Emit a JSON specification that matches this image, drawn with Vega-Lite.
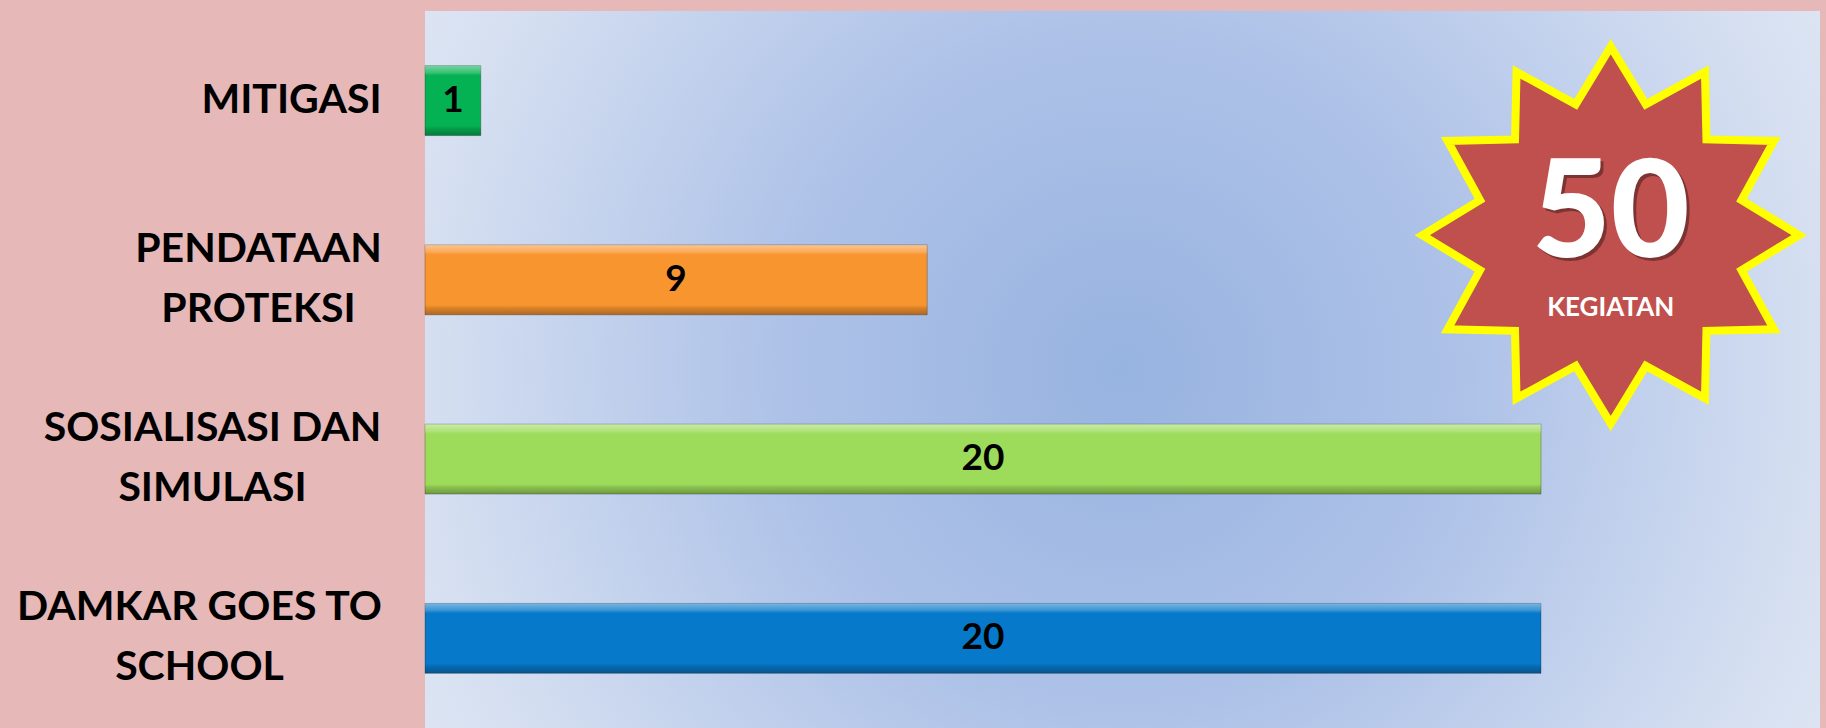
{
  "$schema": "https://vega.github.io/schema/vega-lite/v6.json",
  "width": 1395,
  "height": 717,
  "autosize": {"type": "none"},
  "padding": {"left": 425, "top": 11, "right": 6, "bottom": 0},
  "background": "#E6B8B7",
  "config": {"view": {"stroke": null}, "font": "Lato"},
  "datasets": {
    "kegiatan": [
      {"kategori": "MITIGASI", "jumlah": 1},
      {"kategori": "PENDATAAN PROTEKSI", "jumlah": 9},
      {"kategori": "SOSIALISASI DAN SIMULASI", "jumlah": 20},
      {"kategori": "DAMKAR GOES TO SCHOOL", "jumlah": 20}
    ]
  },
  "data": {"name": "kegiatan"},
  "resolve": {"scale": {"x": "independent"}},
  "layer": [
    {
      "data": {"values": [{"bg": 1}]},
      "mark": {
        "type": "rect",
        "color": {
          "gradient": "radial",
          "x1": 0.5, "y1": 0.5, "r1": 0,
          "x2": 0.5, "y2": 0.5, "r2": 0.62,
          "stops": [
            {"offset": 0, "color": "#97B3E0"},
            {"offset": 0.4, "color": "#AEC2E8"},
            {"offset": 0.82, "color": "#D6E0F1"},
            {"offset": 1, "color": "#E3E9F5"}
          ]
        }
      },
      "encoding": {}
    },
    {
      "mark": {"type": "bar", "stroke": "#00000040", "strokeWidth": 1},
      "encoding": {
        "y": {
          "field": "kategori",
          "type": "nominal",
          "sort": null,
          "scale": {"paddingInner": 0.61, "paddingOuter": 0.305},
          "axis": {
            "title": null,
            "domain": false,
            "ticks": false,
            "labelFont": "Lato",
            "labelFontWeight": "bold",
            "labelFontSize": 41,
            "labelColor": "#000000",
            "labelLineHeight": 60,
            "labelAlign": "center",
            "labelBaseline": "middle",
            "labelLimit": 500,
            "labelPadding": {"condition": [
              {"test": "datum.value == 'MITIGASI'", "value": 134},
              {"test": "datum.value == 'PENDATAAN PROTEKSI'", "value": 167},
              {"test": "datum.value == 'SOSIALISASI DAN SIMULASI'", "value": 213}
            ], "value": 226},
            "labelOffset": {"condition": {"test": "datum.value != 'MITIGASI'", "value": -30}, "value": 0},
            "labelExpr": "datum.value == 'PENDATAAN PROTEKSI' ? ['PENDATAAN', 'PROTEKSI'] : datum.value == 'SOSIALISASI DAN SIMULASI' ? ['SOSIALISASI DAN', 'SIMULASI'] : datum.value == 'DAMKAR GOES TO SCHOOL' ? ['DAMKAR GOES TO', 'SCHOOL'] : datum.value"
          }
        },
        "x": {
          "field": "jumlah",
          "type": "quantitative",
          "scale": {"domain": [0, 25], "nice": false},
          "axis": null
        },
        "color": {
          "field": "kategori",
          "type": "nominal",
          "sort": null,
          "scale": {
            "domain": ["MITIGASI", "PENDATAAN PROTEKSI", "SOSIALISASI DAN SIMULASI", "DAMKAR GOES TO SCHOOL"],
            "range": ["#05B253", "#F9952F", "#9DDB5A", "#0779CA"]
          },
          "legend": null
        }
      }
    },
    {
      "mark": {
        "type": "bar",
        "color": {
          "gradient": "linear",
          "x1": 0, "y1": 0, "x2": 0, "y2": 1,
          "stops": [
            {"offset": 0, "color": "rgba(255,255,255,0.45)"},
            {"offset": 0.1, "color": "rgba(255,255,255,0.2)"},
            {"offset": 0.14, "color": "rgba(255,255,255,0)"},
            {"offset": 0.86, "color": "rgba(0,0,0,0)"},
            {"offset": 0.9, "color": "rgba(0,0,0,0.12)"},
            {"offset": 1, "color": "rgba(0,0,0,0.3)"}
          ]
        }
      },
      "encoding": {
        "y": {"field": "kategori", "type": "nominal", "sort": null},
        "x": {"field": "jumlah", "type": "quantitative", "scale": {"domain": [0, 25], "nice": false}, "axis": null}
      }
    },
    {
      "mark": {
        "type": "text",
        "font": "Lato",
        "fontWeight": "bold",
        "fontSize": 37,
        "color": "#000000",
        "align": "center",
        "baseline": "middle"
      },
      "encoding": {
        "y": {"field": "kategori", "type": "nominal", "sort": null},
        "x": {"field": "jumlah", "type": "quantitative", "scale": {"domain": [0, 50], "nice": false}, "axis": null},
        "text": {"field": "jumlah", "type": "quantitative"}
      }
    },
    {
      "data": {"values": [{"badge": "total"}]},
      "mark": {
        "type": "point",
        "filled": true,
        "fill": "#C0504D",
        "stroke": "#FFFF00",
        "strokeWidth": 8,
        "opacity": 1,
        "fillOpacity": 1,
        "size": 142000,
        "shape": "M0,-1L0.186,-0.694L0.5,-0.866L0.508,-0.508L0.866,-0.5L0.694,-0.186L1,0L0.694,0.186L0.866,0.5L0.508,0.508L0.5,0.866L0.186,0.694L0,1L-0.186,0.694L-0.5,0.866L-0.508,0.508L-0.866,0.5L-0.694,0.186L-1,0L-0.694,-0.186L-0.866,-0.5L-0.508,-0.508L-0.5,-0.866L-0.186,-0.694Z"
      },
      "encoding": {
        "x": {"datum": 21.25, "type": "quantitative", "scale": {"domain": [0, 25], "nice": false}, "axis": null},
        "y": {"datum": "PENDATAAN PROTEKSI", "bandPosition": -0.14}
      }
    },
    {
      "mark": {
        "type": "text",
        "font": "Lato",
        "fontWeight": 900,
        "fontSize": 136,
        "color": "#000000",
        "opacity": 0.35,
        "align": "center",
        "baseline": "middle",
        "dx": 3,
        "dy": 3
      },
      "encoding": {
        "x": {"datum": 21.25, "type": "quantitative", "scale": {"domain": [0, 25], "nice": false}, "axis": null},
        "y": {"datum": "PENDATAAN PROTEKSI", "bandPosition": -0.42},
        "text": {"aggregate": "sum", "field": "jumlah", "type": "quantitative"}
      }
    },
    {
      "mark": {
        "type": "text",
        "font": "Lato",
        "fontWeight": 900,
        "fontSize": 136,
        "color": "#FFFFFF",
        "align": "center",
        "baseline": "middle"
      },
      "encoding": {
        "x": {"datum": 21.25, "type": "quantitative", "scale": {"domain": [0, 25], "nice": false}, "axis": null},
        "y": {"datum": "PENDATAAN PROTEKSI", "bandPosition": -0.42},
        "text": {"aggregate": "sum", "field": "jumlah", "type": "quantitative"}
      }
    },
    {
      "data": {"values": [{"teks": "KEGIATAN"}]},
      "mark": {
        "type": "text",
        "font": "Lato",
        "fontWeight": "bold",
        "fontSize": 26,
        "color": "#FFFFFF",
        "align": "center",
        "baseline": "middle"
      },
      "encoding": {
        "x": {"datum": 21.25, "type": "quantitative", "scale": {"domain": [0, 25], "nice": false}, "axis": null},
        "y": {"datum": "PENDATAAN PROTEKSI", "bandPosition": 0.9},
        "text": {"field": "teks", "type": "nominal"}
      }
    }
  ]
}
